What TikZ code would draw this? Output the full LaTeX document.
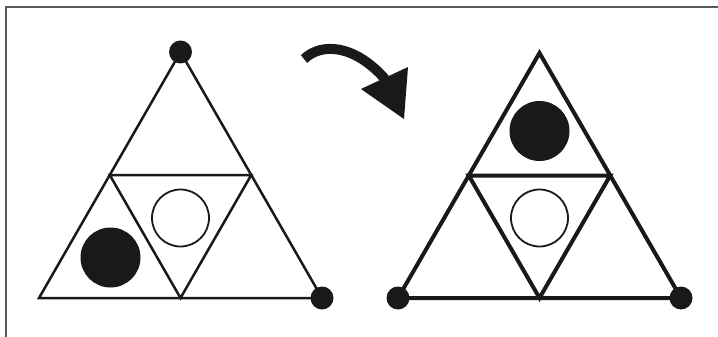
\documentclass[tikz,border=0pt]{standalone}
\usetikzlibrary{calc}

\tikzset{
  dot/.style={circle, fill=black!90, inner sep=0pt, minimum size=23pt},
  ball/.style={circle, fill=black!90, inner sep=0pt, minimum size=60pt},
  hole/.style={circle, draw=black!90, line width=1.8pt, inner sep=0pt, minimum size=57pt},
  thinline/.style={draw=black!90, line width=2.5pt},
  thickline/.style={draw=black!90, line width=4pt},
}

\begin{document}
\begin{tikzpicture}[x=1pt, y=-1pt]
  \useasboundingbox (0,0) rectangle (718,337);
  % frame
  \draw[gray!70!black, line width=1.5pt] (6,337)--(6,7)--(718,7);

  % left triangle
  \coordinate (LA) at (180.5,52);
  \coordinate (LB) at (39,298);
  \coordinate (LC) at (322,298);
  \coordinate (Lab) at ($(LA)!0.5!(LB)$);
  \coordinate (Lac) at ($(LA)!0.5!(LC)$);
  \coordinate (Lbc) at ($(LB)!0.5!(LC)$);
  \draw[thinline] (LA)--(LB)--(LC)--cycle;
  \draw[thinline] (Lab)--(Lac)--(Lbc)--cycle;
  \node[dot] (Ltop) at (LA) {};
  \node[dot] (Lright) at (LC) {};
  \node[hole] (Lhole) at (180.5,218) {};
  \node[ball] (Lball) at (110.5,257.5) {};

  % turn arrow
  \coordinate (tail) at (304,59);
  \coordinate (neck) at (385,79);
  \draw[black!90, line width=10pt] (tail) .. controls (322,42) and (355,45) .. (neck);
  \fill[black!90] (408,67)--(361,89)--(404,119)--cycle;

  % right triangle
  \coordinate (RA) at (539.5,53);
  \coordinate (RB) at (398,298);
  \coordinate (RC) at (681,298);
  \coordinate (Rab) at ($(RA)!0.5!(RB)$);
  \coordinate (Rac) at ($(RA)!0.5!(RC)$);
  \coordinate (Rbc) at ($(RB)!0.5!(RC)$);
  \draw[thickline] (RA)--(RB)--(RC)--cycle;
  \draw[thickline] (Rab)--(Rac)--(Rbc)--cycle;
  \node[dot] (Rleft) at (RB) {};
  \node[dot] (Rright) at (RC) {};
  \node[ball] (Rball) at (539.5,131) {};
  \node[hole] (Rhole) at (539.5,218) {};
\end{tikzpicture}
\end{document}
